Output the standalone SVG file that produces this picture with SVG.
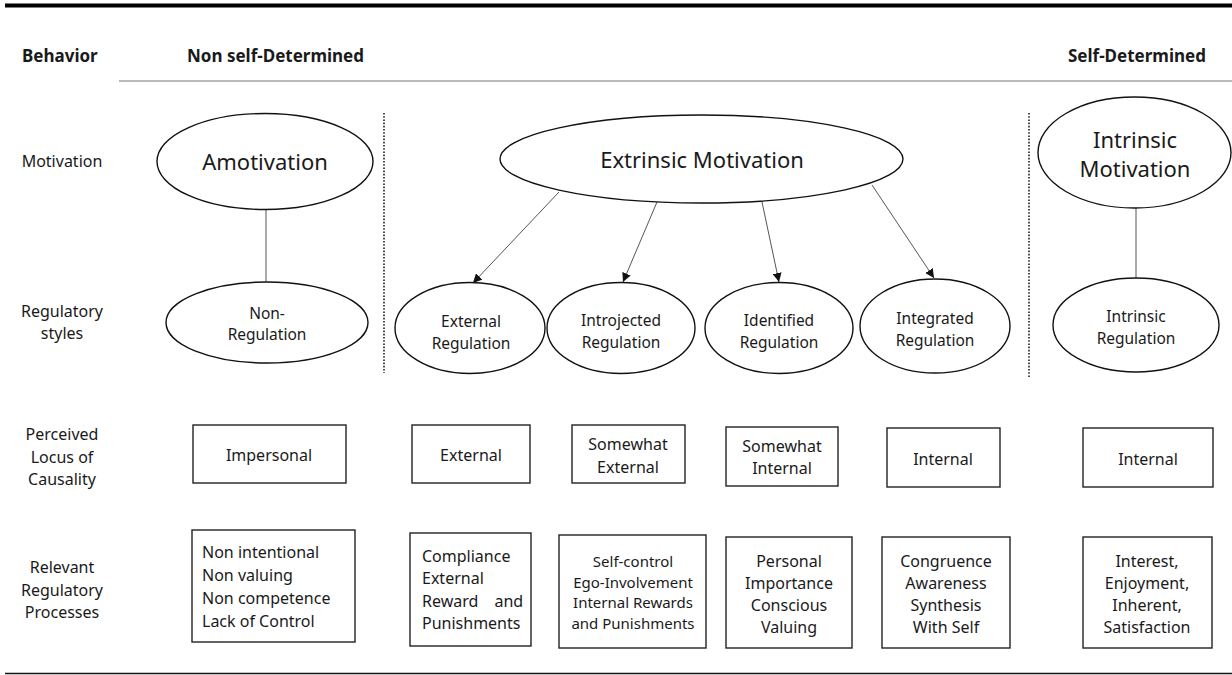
<svg xmlns="http://www.w3.org/2000/svg" width="1232" height="675" viewBox="0 0 1232 675">
  <style>
    text { font-family: "Noto Sans", "Open Sans", "Liberation Sans", sans-serif; fill: #1a1a1a; }
    .head { font-size: 17px; font-weight: bold; }
    .lbl { font-size: 16px; text-anchor: middle; }
    .big { font-size: 22px; text-anchor: middle; }
    .reg { font-size: 15.5px; text-anchor: middle; }
    .box-t { font-size: 16px; text-anchor: middle; }
    .box-l { font-size: 16px; }
    .small { font-size: 15px; text-anchor: middle; }
    ellipse { fill: #fff; stroke: #111; stroke-width: 1.4; }
    rect.box { fill: #fff; stroke: #222; stroke-width: 1.4; }
    .conn { stroke: #555; stroke-width: 1; fill: none; }
    .divider { stroke: #222; stroke-width: 1.6; stroke-dasharray: 1.6 1.6; fill: none; }
  </style>
  <defs>
    <marker id="arrow" viewBox="0 0 10 10" refX="10" refY="5" markerWidth="9" markerHeight="9" markerUnits="userSpaceOnUse" orient="auto">
      <path d="M0,0 L10,5 L0,10 z" fill="#111"/>
    </marker>
  </defs>

  <rect width="1232" height="675" fill="#fff"/>

  <!-- frame rules -->
  <g id="rules">
    <line x1="5" y1="5.5" x2="1232" y2="5.5" stroke="#000" stroke-width="4"/>
    <line x1="119" y1="81" x2="1232" y2="81" stroke="#777" stroke-width="1.2"/>
    <line x1="5" y1="673.5" x2="1232" y2="673.5" stroke="#111" stroke-width="1.5"/>
  </g>

  <!-- header -->
  <g id="header">
    <text class="head" x="22" y="62">Behavior</text>
    <text class="head" x="187" y="62">Non self-Determined</text>
    <text class="head" x="1068" y="62">Self-Determined</text>
  </g>

  <!-- row labels -->
  <g id="row-labels">
    <text class="lbl" x="62" y="167">Motivation</text>
    <text class="lbl" x="62" y="317">Regulatory</text>
    <text class="lbl" x="62" y="339">styles</text>
    <text class="lbl" x="62" y="440">Perceived</text>
    <text class="lbl" x="62" y="463">Locus of</text>
    <text class="lbl" x="62" y="485">Causality</text>
    <text class="lbl" x="62" y="573">Relevant</text>
    <text class="lbl" x="62" y="596">Regulatory</text>
    <text class="lbl" x="62" y="618">Processes</text>
  </g>

  <!-- column dividers -->
  <g id="dividers">
    <line class="divider" x1="384" y1="113" x2="384" y2="373"/>
    <line class="divider" x1="1029" y1="113" x2="1029" y2="378"/>
  </g>

  <!-- connectors -->
  <g id="connectors">
    <line class="conn" x1="266" y1="209" x2="266" y2="282"/>
    <line class="conn" x1="1136" y1="208" x2="1136" y2="279"/>
    <line class="conn" x1="559" y1="192" x2="473" y2="283" marker-end="url(#arrow)"/>
    <line class="conn" x1="657" y1="202" x2="623" y2="282" marker-end="url(#arrow)"/>
    <line class="conn" x1="762" y1="202" x2="779" y2="282" marker-end="url(#arrow)"/>
    <line class="conn" x1="872" y1="185" x2="934" y2="278" marker-end="url(#arrow)"/>
  </g>

  <!-- motivation nodes -->
  <g id="amotivation">
    <ellipse cx="265" cy="161.5" rx="108" ry="48"/>
    <text class="big" x="265" y="170">Amotivation</text>
  </g>
  <g id="extrinsic-motivation">
    <ellipse cx="701.5" cy="159" rx="201.5" ry="44"/>
    <text class="big" x="702" y="168">Extrinsic Motivation</text>
  </g>
  <g id="intrinsic-motivation">
    <ellipse cx="1134.5" cy="152.5" rx="96.5" ry="55.5"/>
    <text class="big" x="1135" y="148">Intrinsic</text>
    <text class="big" x="1135" y="177">Motivation</text>
  </g>

  <!-- regulatory style nodes -->
  <g id="non-regulation">
    <ellipse cx="267" cy="322.5" rx="101" ry="40.5"/>
    <text class="reg" x="267" y="319">Non-</text>
    <text class="reg" x="267" y="340">Regulation</text>
  </g>
  <g id="external-regulation">
    <ellipse cx="470" cy="328" rx="75" ry="45.5"/>
    <text class="reg" x="471" y="327">External</text>
    <text class="reg" x="471" y="349">Regulation</text>
  </g>
  <g id="introjected-regulation">
    <ellipse cx="621" cy="328" rx="74" ry="45.5"/>
    <text class="reg" x="621" y="326">Introjected</text>
    <text class="reg" x="621" y="348">Regulation</text>
  </g>
  <g id="identified-regulation">
    <ellipse cx="779" cy="328" rx="74" ry="45.5"/>
    <text class="reg" x="779" y="326">Identified</text>
    <text class="reg" x="779" y="348">Regulation</text>
  </g>
  <g id="integrated-regulation">
    <ellipse cx="935" cy="326" rx="75" ry="47"/>
    <text class="reg" x="935" y="324">Integrated</text>
    <text class="reg" x="935" y="346">Regulation</text>
  </g>
  <g id="intrinsic-regulation">
    <ellipse cx="1136" cy="325" rx="83" ry="47"/>
    <text class="reg" x="1136" y="322">Intrinsic</text>
    <text class="reg" x="1136" y="344">Regulation</text>
  </g>

  <!-- perceived locus of causality -->
  <g id="locus-impersonal">
    <rect class="box" x="193" y="425" width="153" height="58"/>
    <text class="box-t" x="269" y="461">Impersonal</text>
  </g>
  <g id="locus-external">
    <rect class="box" x="412" y="425" width="118" height="58"/>
    <text class="box-t" x="471" y="461">External</text>
  </g>
  <g id="locus-somewhat-external">
    <rect class="box" x="572" y="425" width="113" height="58"/>
    <text class="box-t" x="628" y="450">Somewhat</text>
    <text class="box-t" x="628" y="473">External</text>
  </g>
  <g id="locus-somewhat-internal">
    <rect class="box" x="726" y="427" width="112" height="59"/>
    <text class="box-t" x="782" y="452">Somewhat</text>
    <text class="box-t" x="782" y="474">Internal</text>
  </g>
  <g id="locus-internal-integrated">
    <rect class="box" x="887" y="428" width="113" height="59"/>
    <text class="box-t" x="943" y="465">Internal</text>
  </g>
  <g id="locus-internal-intrinsic">
    <rect class="box" x="1083" y="428" width="130" height="59"/>
    <text class="box-t" x="1148" y="465">Internal</text>
  </g>

  <!-- relevant regulatory processes -->
  <g id="process-amotivation">
    <rect class="box" x="192" y="530" width="163" height="112"/>
    <text class="box-l" x="202" y="558">Non intentional</text>
    <text class="box-l" x="202" y="581">Non valuing</text>
    <text class="box-l" x="202" y="604">Non competence</text>
    <text class="box-l" x="202" y="627">Lack of Control</text>
  </g>
  <g id="process-external">
    <rect class="box" x="410" y="533" width="121" height="113"/>
    <text class="box-l" x="422" y="562">Compliance</text>
    <text class="box-l" x="422" y="584">External</text>
    <text class="box-l" x="422" y="607" word-spacing="12">Reward and</text>
    <text class="box-l" x="422" y="629">Punishments</text>
  </g>
  <g id="process-introjected">
    <rect class="box" x="559" y="535" width="147" height="113"/>
    <text class="small" x="633" y="567">Self-control</text>
    <text class="small" x="633" y="588">Ego-Involvement</text>
    <text class="small" x="633" y="608">Internal Rewards</text>
    <text class="small" x="633" y="629">and Punishments</text>
  </g>
  <g id="process-identified">
    <rect class="box" x="726" y="537" width="126" height="111"/>
    <text class="box-t" x="789" y="567">Personal</text>
    <text class="box-t" x="789" y="589">Importance</text>
    <text class="box-t" x="789" y="611">Conscious</text>
    <text class="box-t" x="789" y="633">Valuing</text>
  </g>
  <g id="process-integrated">
    <rect class="box" x="882" y="537" width="128" height="111"/>
    <text class="box-t" x="946" y="567">Congruence</text>
    <text class="box-t" x="946" y="589">Awareness</text>
    <text class="box-t" x="946" y="611">Synthesis</text>
    <text class="box-t" x="946" y="633">With Self</text>
  </g>
  <g id="process-intrinsic">
    <rect class="box" x="1083" y="537" width="129" height="111"/>
    <text class="box-t" x="1147" y="567">Interest,</text>
    <text class="box-t" x="1147" y="589">Enjoyment,</text>
    <text class="box-t" x="1147" y="611">Inherent,</text>
    <text class="box-t" x="1147" y="633">Satisfaction</text>
  </g>
</svg>
